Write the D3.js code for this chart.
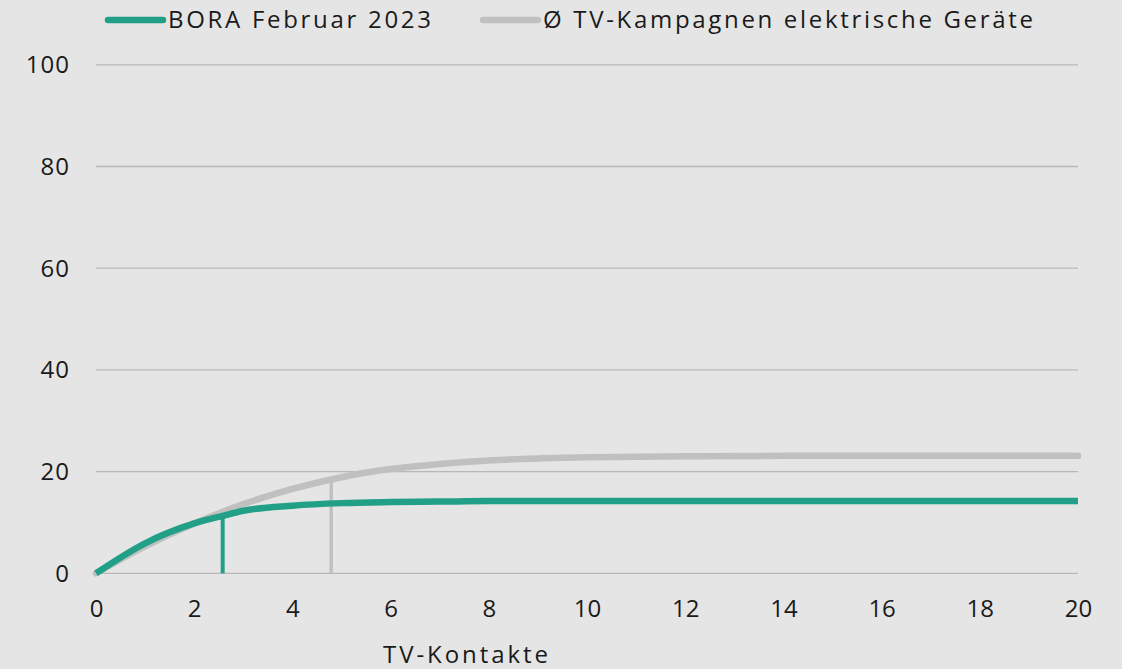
<!DOCTYPE html>
<html>
<head>
<meta charset="utf-8">
<script src="https://cdn.jsdelivr.net/npm/d3@7"></script>
<style>
  html,body{margin:0;padding:0;background:#e5e5e5;}
  svg{display:block;font-family:"Open Sans",sans-serif;}
</style>
</head>
<body>
<script>
// data
const seriesNames=["BORA Februar 2023","Ø TV-Kampagnen elektrische Geräte"];
const boraX=[0,1,2,2.58,3,4,5,6,7,8,9,10,12,14,16,18,20];
const boraY=[0,5.9,9.8,11.3,12.3,13.3,13.8,14.0,14.1,14.2,14.2,14.2,14.2,14.2,14.2,14.2,14.2];
const avgX=[0,1,2,3,4,5,6,7,8,9,10,11,12,14,16,18,20];
const avgY=[0,5.3,9.8,13.6,16.6,18.9,20.5,21.5,22.2,22.6,22.8,22.9,23.0,23.1,23.1,23.1,23.1];
const markerX=[2.58,4.79];
const xTicks=[0,2,4,6,8,10,12,14,16,18,20];
const yTicks=[0,20,40,60,80,100];
const xTitle="TV-Kontakte";

const W=1122,H=669;
const green="#21a087",grey="#c0c0c0",ink="#1a1a1a";

const svg=d3.select("body").append("svg").attr("width",W).attr("height",H);
svg.append("rect").attr("width",W).attr("height",H).attr("fill","#e5e5e5");

const x=d3.scaleLinear().domain([0,20]).range([96,1078]);
const y=d3.scaleLinear().domain([0,100]).range([573.3,64.8]);

//grid
svg.append("g").selectAll("line").data(yTicks).enter().append("line")
  .attr("x1",x(0)).attr("x2",x(20))
  .attr("y1",d=>y(d)).attr("y2",d=>y(d))
  .attr("stroke","#b8b8b8").attr("stroke-width",1.3);

//y labels
svg.append("g").selectAll("text").data(yTicks).enter().append("text")
  .attr("x",70).attr("y",d=>y(d)+8.5)
  .attr("text-anchor","end").attr("font-size",24).attr("letter-spacing",1).attr("fill",ink)
  .text(d=>d);

//x axis labels
const xAxis=d3.axisBottom(x).tickValues(xTicks).tickSize(0).tickPadding(0);
const gx=svg.append("g").attr("transform","translate(0,"+y(0)+")").call(xAxis);
gx.select(".domain").remove();
gx.selectAll("text").attr("dy",null).attr("y",44).attr("font-size",24)
  .attr("font-family","Open Sans").attr("fill",ink);

svg.append("text").attr("x",383).attr("y",663)
  .attr("font-size",24).attr("fill",ink)
  .attr("textLength",165).attr("lengthAdjust","spacing").text(xTitle);

//marker lines
const boraAt=v=>d3.scaleLinear().domain(boraX).range(boraY)(v);
const avgAt=v=>d3.scaleLinear().domain(avgX).range(avgY)(v);
svg.append("line").attr("x1",x(markerX[0])).attr("x2",x(markerX[0]))
  .attr("y1",y(0)).attr("y2",y(boraAt(markerX[0]))).attr("stroke",green).attr("stroke-width",4);
svg.append("line").attr("x1",x(markerX[1])).attr("x2",x(markerX[1]))
  .attr("y1",y(0)).attr("y2",y(avgAt(markerX[1]))).attr("stroke",grey).attr("stroke-width",3.5);

//curves
const line=d3.line().x(d=>x(d[0])).y(d=>y(d[1])).curve(d3.curveMonotoneX);
svg.append("path").datum(avgX.map((v,i)=>[v,avgY[i]]))
  .attr("d",line).attr("fill","none").attr("stroke",grey).attr("stroke-width",6.5).attr("stroke-linecap","round");
svg.append("path").datum(boraX.map((v,i)=>[v,boraY[i]]))
  .attr("d",line).attr("fill","none").attr("stroke",green).attr("stroke-width",6.5);

//legend
const leg=[{x:108,c:green,t:seriesNames[0],w:263},{x:483,c:grey,t:seriesNames[1],w:490}];
const lg=svg.append("g").selectAll("g").data(leg).enter().append("g");
lg.append("line").attr("x1",d=>d.x).attr("x2",d=>d.x+55).attr("y1",20).attr("y2",20)
  .attr("stroke",d=>d.c).attr("stroke-width",6.5).attr("stroke-linecap","round");
lg.append("text").attr("x",d=>d.x+60).attr("y",28).attr("font-size",24).attr("fill",ink)
  .attr("textLength",d=>d.w).attr("lengthAdjust","spacing").text(d=>d.t);
</script>
</body>
</html>
